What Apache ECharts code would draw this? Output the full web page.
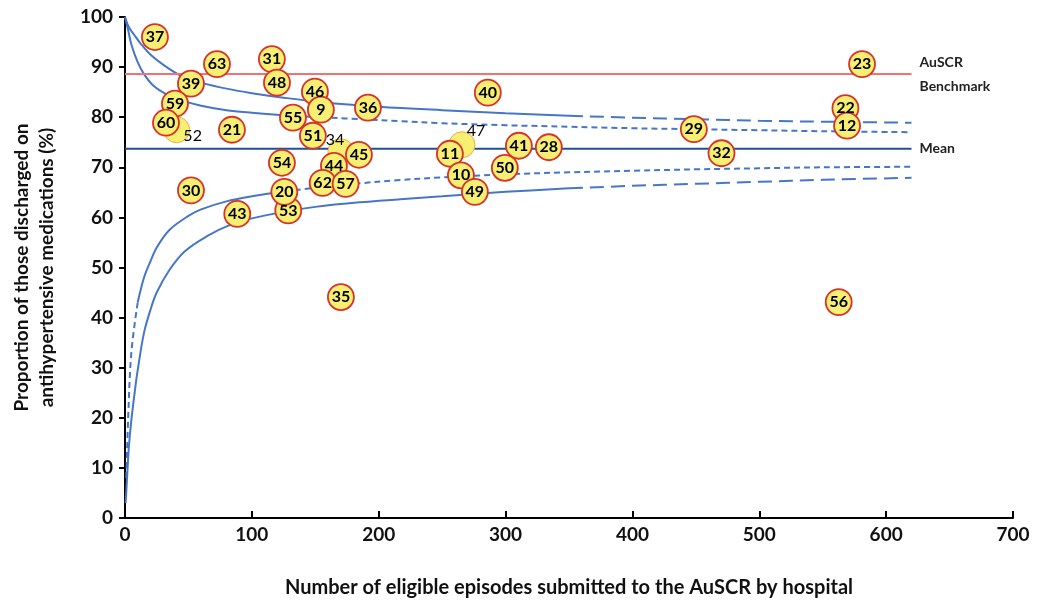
<!DOCTYPE html>
<html>
<head>
<meta charset="utf-8">
<script src="https://cdn.jsdelivr.net/npm/echarts@6/dist/echarts.min.js"></script>
<style>
html,body{margin:0;padding:0;background:#fff;}
#chart{width:1041px;height:603px;}
</style>
</head>
<body>
<div id="chart"></div>
<script>
// ---- data ----
const xTickLabels = ['0','100','200','300','400','500','600','700'];
const yTickLabels = ['0','10','20','30','40','50','60','70','80','90','100'];

const hospitalIds = ['52','47','34','37','63','31','39','48','46','9','40','59','36','55','60','21','51','44','45','54','11','41','28','10','50','49','62','57','53','20','30','43','35','56','29','32','22','12','23'];
const episodes    = [40.7,265.6,170.2,23.6,72.5,115.8,52,119.8,149.7,154.4,286,39.4,191.5,132.4,32.3,84.3,148.1,164.7,184.4,123.7,256.1,310.5,334.1,264.8,299.4,275.8,155.8,173.9,128.7,125.6,52,88.5,170.2,562.6,448.4,470.2,567.9,569.2,581];
const proportions = [77.5,74.5,73.1,96.0,90.6,91.6,86.7,86.9,85.1,81.5,84.9,82.7,81.9,79.9,78.9,77.5,76.3,70.3,72.5,70.9,72.7,74.3,74.0,68.4,69.9,65.1,66.9,66.7,61.4,65.1,65.4,60.7,44.1,43.1,77.6,72.8,81.8,78.3,90.6];

const benchmarkValue = 88.6;
const meanValue = 73.7;
const refLineX = [0, 620];

// funnel limits
const upperOuterSolid  = [[0,100],[3,98],[7.6,96.3],[12,94.8],[20,92.5],[30,90.5],[44,88.3],[60,86.9],[80,85.7],[100,84.8],[125,83.9],[155,83.0],[200,82.1],[250,81.4],[300,80.8],[350,80.3]];
const upperOuterDashed = [[350,80.3],[400,79.9],[450,79.6],[500,79.3],[550,79.1],[620,78.9]];
const upperInnerSolid  = [[0,100],[2.4,97.5],[5,94.5],[10,91],[15,88.6],[22,86.4],[34,84.4],[45,83.3],[60,82.3],[80,81.4],[100,80.9],[130,80.3],[155,80.0]];
const upperInnerDashed = [[155,80.0],[185,79.6],[217,79.2],[250,78.8],[300,78.4],[350,78.1],[400,77.8],[450,77.6],[500,77.4],[550,77.2],[620,77.0]];
const lowerInnerDashLow = [[1,8],[2.5,20],[5,33],[10,43]];
const lowerInnerSolid  = [[10,43],[15,48],[20,51.2],[25,54],[35,57.5],[50,60.3],[60,61.6],[80,63.2],[100,64.2],[126,65.2]];
const lowerInnerDashed = [[126,65.2],[150,65.9],[185,66.8],[214,67.4],[250,68],[300,68.6],[350,69],[400,69.3],[450,69.6],[500,69.8],[550,70],[620,70.1]];
const lowerOuterSolid  = [[0.5,3],[1,5.1],[3,14],[5,19.5],[7.6,25],[10,29.5],[15,37],[20,41.5],[25,45],[35,49.5],[47,53.2],[65,56.3],[82,58.4],[100,59.8],[127,61.2],[150,62.1],[185,63],[217,63.6],[250,64.2],[300,65.1],[350,65.8]];
const lowerOuterDashed = [[350,65.8],[400,66.3],[450,66.7],[500,67.1],[550,67.5],[620,67.9]];

// ---- styling ----
const FONT = 'Lato';
const curveColor = '#4676c8';
const outsideLabels = { '52': [16, 6], '47': [14, -14], '34': [-6, -12] };

function curve(data, dash) {
  return {
    type: 'line', data: data, smooth: 0.35, showSymbol: false, silent: true,
    lineStyle: { color: curveColor, width: 2, type: dash || 'solid' }, z: 2
  };
}

const scatterData = hospitalIds.map((id, i) => {
  const item = { name: id, value: [episodes[i], proportions[i]] };
  if (outsideLabels[id]) {
    item.itemStyle = { borderColor: '#e2b24a', borderWidth: 1 };
    item.label = { position: 'inside', offset: outsideLabels[id], fontWeight: 'normal', fontSize: 16 };
  }
  return item;
});

const chart = echarts.init(document.getElementById('chart'), null, { renderer: 'canvas' });
chart.setOption({
  animation: false,
  backgroundColor: '#ffffff',
  grid: { left: 125, right: 28, top: 17, bottom: 84 },
  xAxis: {
    type: 'value', min: 0, max: 700, interval: 100,
    name: 'Number of eligible episodes submitted to the AuSCR by hospital',
    nameLocation: 'middle', nameGap: 60,
    nameTextStyle: { fontFamily: FONT, fontWeight: 'bold', fontSize: 20, color: '#111' },
    axisLine: { lineStyle: { color: '#000', width: 2 } },
    axisTick: { inside: true, length: 7, lineStyle: { color: '#000', width: 2 } },
    axisLabel: { fontFamily: FONT, fontWeight: 'bold', fontSize: 19, color: '#111', margin: 7,
      formatter: (v) => xTickLabels[Math.round(v / 100)] },
    splitLine: { show: false }
  },
  yAxis: {
    type: 'value', min: 0, max: 100, interval: 10,
    name: 'Proportion of those discharged on\nantihypertensive medications (%)',
    nameLocation: 'middle', nameGap: 66, nameRotate: 90,
    nameTextStyle: { fontFamily: FONT, fontWeight: 'bold', fontSize: 19, color: '#111', lineHeight: 25 },
    axisLine: { show: true, lineStyle: { color: '#000', width: 2 } },
    axisTick: { show: true, inside: false, length: 6, lineStyle: { color: '#000', width: 2 } },
    axisLabel: { fontFamily: FONT, fontWeight: 'bold', fontSize: 19, color: '#111', margin: 12,
      formatter: (v) => yTickLabels[Math.round(v / 10)] },
    splitLine: { show: false }
  },
  series: [
    curve(upperOuterSolid), curve(upperOuterDashed, [14, 7]),
    curve(upperInnerSolid), curve(upperInnerDashed, [6, 4]),
    curve(lowerInnerDashLow, [6, 4]), curve(lowerInnerSolid), curve(lowerInnerDashed, [6, 4]),
    curve(lowerOuterSolid), curve(lowerOuterDashed, [14, 7]),
    {
      type: 'line', data: refLineX.map(x => [x, benchmarkValue]), showSymbol: false, silent: true,
      lineStyle: { color: '#f07272', width: 2 }, z: 3,
      endLabel: { show: true, formatter: 'AuSCR\nBenchmark', distance: 8, fontFamily: FONT,
        fontSize: 14, fontWeight: 'bold', color: '#222', lineHeight: 24, align: 'left' }
    },
    {
      type: 'line', data: refLineX.map(x => [x, meanValue]), showSymbol: false, silent: true,
      lineStyle: { color: '#1f4f96', width: 2 }, z: 3,
      endLabel: { show: true, formatter: 'Mean', distance: 8, fontFamily: FONT,
        fontSize: 14, fontWeight: 'bold', color: '#222', align: 'left' }
    },
    {
      type: 'scatter', data: scatterData, symbol: 'circle', symbolSize: 26, z: 5,
      itemStyle: { color: '#f6ef72', borderColor: '#d8322a', borderWidth: 1.8, opacity: 1 },
      label: { show: true, position: 'inside', formatter: '{b}', fontFamily: FONT,
        fontWeight: 'bold', fontSize: 16, color: '#000' }
    }
  ]
});
</script>
</body>
</html>
